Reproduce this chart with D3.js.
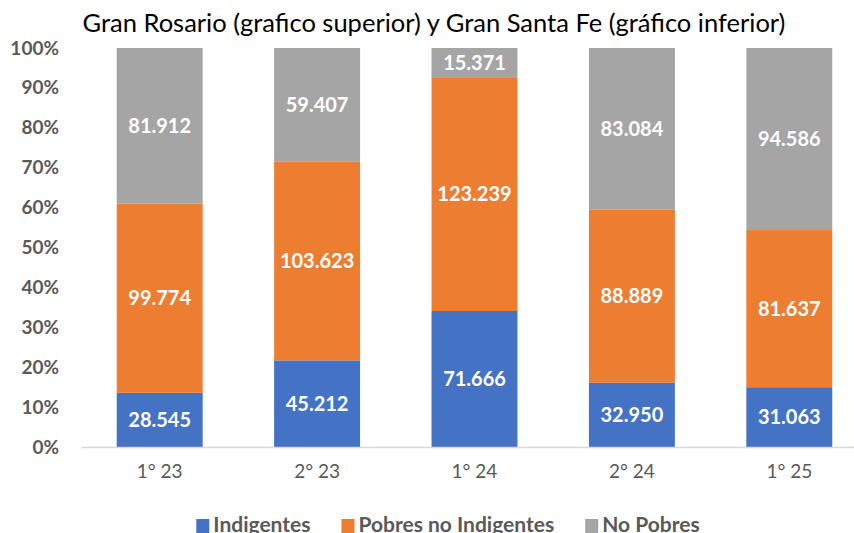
<!DOCTYPE html>
<html>
<head>
<meta charset="utf-8">
<script src="https://cdnjs.cloudflare.com/ajax/libs/d3/7.8.5/d3.min.js"></script>
<style>
body { margin: 0; background: #fff; }
svg { display: block; font-family: Lato, "Open Sans", sans-serif; }
</style>
</head>
<body>
<div id="chart"></div>
<script>
const periods = ["1° 23", "2° 23", "1° 24", "2° 24", "1° 25"];
const indigentes = [28545, 45212, 71666, 32950, 31063];
const pobresNoIndigentes = [99774, 103623, 123239, 88889, 81637];
const noPobres = [81912, 59407, 15371, 83084, 94586];
const seriesNames = ["Indigentes", "Pobres no Indigentes", "No Pobres"];
const yTicks = [0, 0.1, 0.2, 0.3, 0.4, 0.5, 0.6, 0.7, 0.8, 0.9, 1];

const width = 854, height = 533;
const margin = { top: 48, left: 81, bottom: 86 };
const plotW = 787; // plot runs a little past the right edge of the window

const color = d3.scaleOrdinal()
    .domain(seriesNames)
    .range(["#4472C4", "#ED7D31", "#A5A5A5"]);

const svg = d3.select("#chart").append("svg")
    .attr("width", width)
    .attr("height", height);

const rows = periods.map(function(p, i) {
    const total = indigentes[i] + pobresNoIndigentes[i] + noPobres[i];
    return {
        period: p,
        "Indigentes": indigentes[i] / total,
        "Pobres no Indigentes": pobresNoIndigentes[i] / total,
        "No Pobres": noPobres[i] / total,
        raw: { "Indigentes": indigentes[i], "Pobres no Indigentes": pobresNoIndigentes[i], "No Pobres": noPobres[i] }
    };
});

const x = d3.scaleBand().domain(periods).range([margin.left, margin.left + plotW]).paddingInner(0.454).paddingOuter(0.227);
const y = d3.scaleLinear().domain([0, 1]).range([height - margin.bottom, margin.top]);

const stacked = d3.stack().keys(seriesNames)(rows);

// title
svg.append("text")
    .attr("x", 434)
    .attr("y", 32)
    .attr("text-anchor", "middle")
    .style("font-size", "25.5px")
    .style("fill", "#000")
    .text("Gran Rosario (grafico superior) y Gran Santa Fe (gráfico inferior)");

// y axis (labels only)
const yAxis = svg.append("g")
    .attr("transform", "translate(" + (margin.left - 19) + ",0)")
    .call(d3.axisLeft(y).tickValues(yTicks).tickFormat(d3.format(".0%")).tickSize(0));
yAxis.select(".domain").remove();
yAxis.selectAll("text")
    .style("font-size", "19px")
    .style("font-weight", "bold")
    .style("fill", "#595959")
    .style("font-family", "Lato, sans-serif");

// bars
const layer = svg.append("g").selectAll("g")
    .data(stacked)
    .enter().append("g")
    .attr("fill", d => color(d.key));

layer.selectAll("rect")
    .data(d => d.map(v => ({ key: d.key, v: v })))
    .enter().append("rect")
    .attr("x", d => x(d.v.data.period))
    .attr("width", x.bandwidth())
    .attr("y", d => y(d.v[1]))
    .attr("height", d => y(d.v[0]) - y(d.v[1]));

// value labels
const fmt = d3.formatLocale({ decimal: ",", thousands: ".", grouping: [3], currency: ["", ""] }).format(",d");
layer.selectAll("text")
    .data(d => d.map(v => ({ key: d.key, v: v })))
    .enter().append("text")
    .attr("x", d => x(d.v.data.period) + x.bandwidth() / 2)
    .attr("y", d => (y(d.v[0]) + y(d.v[1])) / 2)
    .attr("dy", "0.35em")
    .attr("text-anchor", "middle")
    .style("fill", "#fff")
    .style("font-size", "20px")
    .style("font-weight", "bold")
    .text(d => fmt(d.v.data.raw[d.key]));

// x axis
const xAxis = svg.append("g")
    .attr("transform", "translate(0," + y(0) + ")")
    .call(d3.axisBottom(x).tickSize(0).tickPadding(18));
xAxis.select(".domain").attr("stroke", "#D9D9D9").attr("stroke-width", 1.5);
xAxis.selectAll("text")
    .style("font-size", "19px")
    .style("fill", "#595959")
    .style("font-family", "Lato, sans-serif");

// legend
const legend = svg.append("g");
let lx = 0;
seriesNames.forEach(function(name) {
    const item = legend.append("g").attr("transform", "translate(" + lx + ",0)");
    item.append("rect").attr("x", 0).attr("y", 519).attr("width", 13).attr("height", 14).attr("fill", color(name));
    const t = item.append("text")
        .attr("x", 17)
        .attr("y", 532)
        .style("font-size", "21px")
        .style("font-weight", "bold")
        .style("fill", "#595959")
        .text(name);
    lx += 17 + t.node().getComputedTextLength() + 31;
});
const legendW = lx - 31;
legend.attr("transform", "translate(" + (448 - legendW / 2) + ",0)");
</script>
</body>
</html>
